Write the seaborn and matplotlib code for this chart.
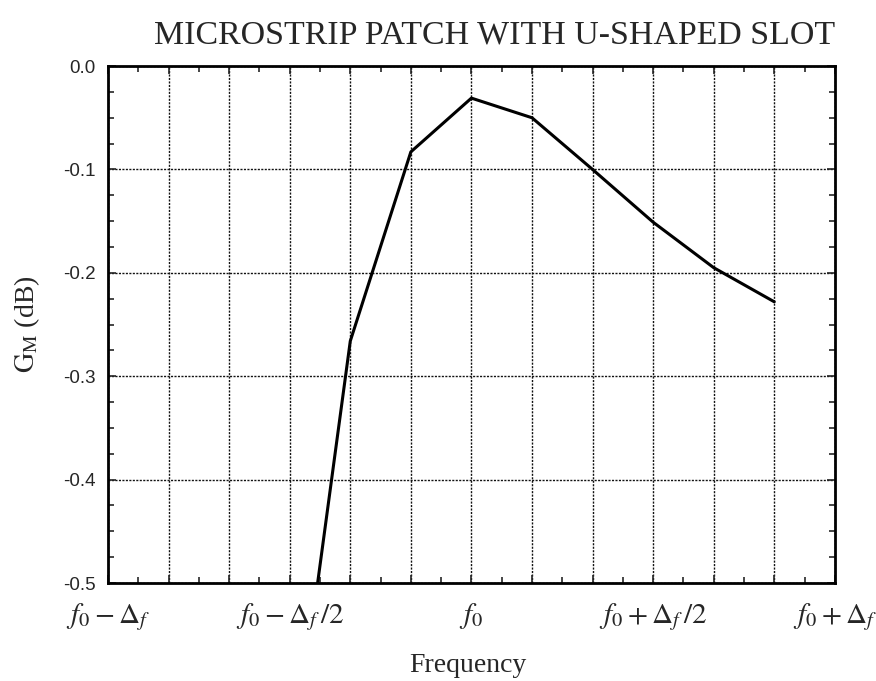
import numpy as np
import pandas as pd
import matplotlib
matplotlib.use("Agg")
import matplotlib.pyplot as plt
import seaborn as sns
from matplotlib.ticker import MultipleLocator

# Data: x in units of Delta_f (f - f0)/Delta_f, y = G_M in dB
freq_offset = [-3/6, -2/6, -1/6, 0/6, 1/6, 2/6, 3/6, 4/6, 5/6]
gain_db = [-0.70, -0.266, -0.083, -0.031, -0.050, -0.100, -0.151, -0.195, -0.228]

xtick_pos = [-1.0, -0.5, 0.0, 0.5, 1.0]
xtick_labels = [r"$f_0-\Delta_f$", r"$f_0-\Delta_f\,/2$", r"$f_0$",
                r"$f_0+\Delta_f\,/2$", r"$f_0+\Delta_f$"]
ytick_pos = [0.0, -0.1, -0.2, -0.3, -0.4, -0.5]
ytick_labels = ["0.0", "-0.1", "-0.2", "-0.3", "-0.4", "-0.5"]

sns.set_style("ticks")
plt.rcParams["mathtext.fontset"] = "stix"
plt.rcParams["font.family"] = ["Liberation Serif", "DejaVu Serif"]

df = pd.DataFrame({"x": freq_offset, "y": gain_db})

fig = plt.figure(figsize=(8.76, 6.81), dpi=100)
ax = fig.add_axes([0.1233, 0.1439, 0.8297, 0.7591])

sns.lineplot(data=df, x="x", y="y", ax=ax, color="black", linewidth=2.2)

ax.set_xlim(-1, 1)
ax.set_ylim(-0.5, 0.0)

ax.xaxis.set_major_locator(MultipleLocator(1/6))
ax.xaxis.set_minor_locator(MultipleLocator(1/12))
ax.yaxis.set_minor_locator(MultipleLocator(0.025))
ax.set_yticks(ytick_pos)
ax.set_yticklabels(ytick_labels, fontsize=13.5, family=["Liberation Sans"])
ax.grid(True, which="major", color="#111111", linestyle=(0, (1.5, 1.0)), linewidth=1.0)
ax.tick_params(which="both", direction="in", top=True, right=True, width=1.2)
ax.tick_params(which="major", length=6)
ax.tick_params(which="minor", length=4)
ax.tick_params(axis="x", which="major", labelbottom=False)
ax.tick_params(axis="y", pad=9)

sec = ax.secondary_xaxis("bottom")
sec.set_xticks(xtick_pos)
sec.set_xticklabels(xtick_labels, fontsize=21)
sec.tick_params(length=0, pad=13)
for s in sec.spines.values():
    s.set_visible(False)

for s in ax.spines.values():
    s.set_linewidth(2.0)
    s.set_color("black")

ax.set_xlabel("")
ax.set_ylabel(r"$\mathrm{G_M}$ (dB)", fontsize=20, labelpad=15)
fig.text(0.534, 1 - 665/681, "Frequency", ha="center", va="center", fontsize=20)
fig.text(0.565, 0.948, "MICROSTRIP PATCH WITH U-SHAPED SLOT", ha="center", va="center", fontsize=24.4)

fig.savefig("out.png", dpi=100)
